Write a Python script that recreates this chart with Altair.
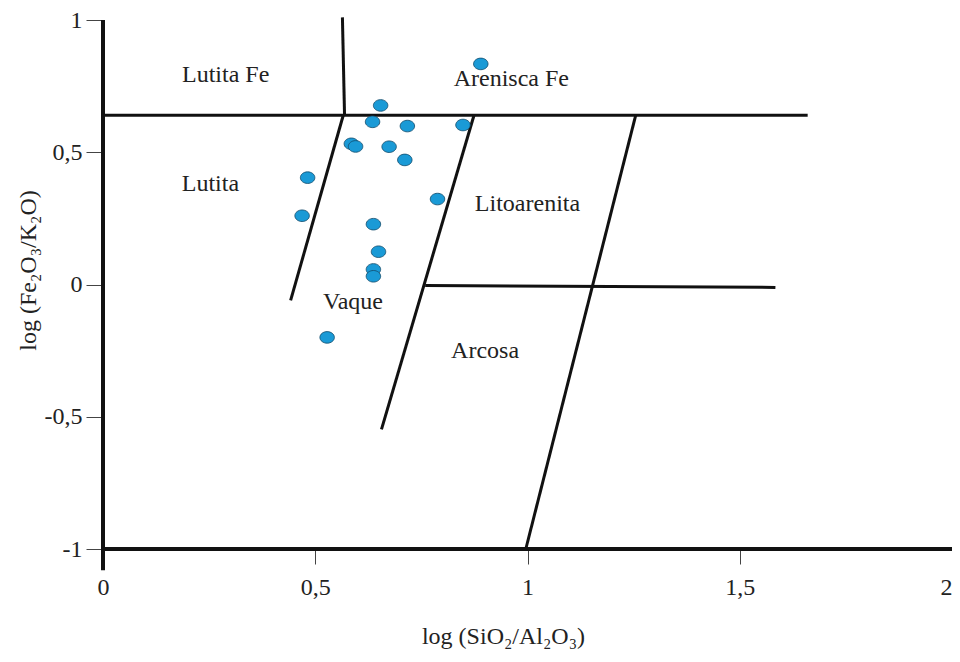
import altair as alt
import pandas as pd

# Sample points: log(SiO2/Al2O3), log(Fe2O3/K2O)
sample_x = [0.890, 0.654, 0.635, 0.717, 0.848, 0.585, 0.595, 0.674, 0.711,
            0.482, 0.788, 0.469, 0.637, 0.649, 0.637, 0.637, 0.528]
sample_y = [0.834, 0.677, 0.615, 0.599, 0.603, 0.532, 0.522, 0.521, 0.471,
            0.404, 0.323, 0.260, 0.228, 0.124, 0.057, 0.031, -0.200]

# Classification boundary segments (Herron 1988)
seg_x1 = [0.564, 0.000, 0.566, 0.874, 0.759, 1.255]
seg_y1 = [1.010, 0.640, 0.640, 0.640, -0.004, 0.640]
seg_x2 = [0.569, 1.660, 0.442, 0.656, 1.584, 0.996]
seg_y2 = [0.640, 0.640, -0.060, -0.548, -0.011, -1.000]

# Frame lines (axes)
frame_x1 = [0.0, 0.0]
frame_y1 = [-1.08, -1.0]
frame_x2 = [0.0, 2.0]
frame_y2 = [1.0, -1.0]

# Field labels
field_names = ["Lutita Fe", "Arenisca Fe", "Lutita", "Litoarenita", "Vaque", "Arcosa"]
field_x = [0.289, 0.962, 0.253, 1.000, 0.589, 0.900]
field_y = [0.793, 0.778, 0.379, 0.303, -0.066, -0.250]

x_ticks = [0, 0.5, 1, 1.5, 2]
y_ticks = [-1, -0.5, 0, 0.5, 1]

FONT = "Liberation Serif"
FS = 24

pts = pd.DataFrame({"x": sample_x, "y": sample_y})
segs = pd.DataFrame({"x": seg_x1, "y": seg_y1, "x2": seg_x2, "y2": seg_y2})
frame = pd.DataFrame({"x": frame_x1, "y": frame_y1, "x2": frame_x2, "y2": frame_y2})
labels = pd.DataFrame({"name": field_names, "x": field_x, "y": field_y})

xscale = alt.Scale(domain=[0, 2], nice=False, zero=False)
yscale = alt.Scale(domain=[-1, 1], nice=False, zero=False)

label_expr = "replace(toString(datum.value), '.', ',')"

xaxis = alt.Axis(
    title="log (SiO₂/Al₂O₃)", values=x_ticks, labelExpr=label_expr,
    domain=False, grid=False, ticks=True, tickSize=15, tickWidth=1, tickColor="#444",
    labelFont=FONT, labelFontSize=FS, labelColor="#222", labelPadding=11,
    labelFlush=False, labelOverlap=False,
    labelAlign=alt.condition("datum.value == 2", alt.value("right"), alt.value("center")),
    titleFont=FONT, titleFontSize=FS, titleFontWeight="normal", titleColor="#222",
    titleX=400, titleY=87, titleBaseline="middle", titleAlign="center",
)
yaxis = alt.Axis(
    title="log (Fe₂O₃/K₂O)", values=y_ticks, labelExpr=label_expr,
    domain=False, grid=False, ticks=True, tickSize=17, tickWidth=1, tickColor="#444",
    labelFont=FONT, labelFontSize=FS, labelColor="#222", labelPadding=4,
    labelFlush=False, labelOverlap=False,
    titleFont=FONT, titleFontSize=FS, titleFontWeight="normal", titleColor="#222",
    titleX=-75, titleY=250, titleAngle=270, titleBaseline="middle", titleAlign="center",
)

base_axes = alt.Chart(pts).mark_point(opacity=0).encode(
    x=alt.X("x:Q", scale=xscale, axis=xaxis),
    y=alt.Y("y:Q", scale=yscale, axis=yaxis),
)

frame_layer = alt.Chart(frame).mark_rule(color="#111", strokeWidth=4).encode(
    x=alt.X("x:Q", scale=xscale), y=alt.Y("y:Q", scale=yscale),
    x2="x2:Q", y2="y2:Q",
)

seg_layer = alt.Chart(segs).mark_rule(color="#111", strokeWidth=3).encode(
    x=alt.X("x:Q", scale=xscale), y=alt.Y("y:Q", scale=yscale),
    x2="x2:Q", y2="y2:Q",
)

ellipse = "M -1 0 A 1 0.8 0 1 0 1 0 A 1 0.8 0 1 0 -1 0 Z"
pt_layer = alt.Chart(pts).mark_point(
    shape=ellipse, filled=True, fill="#1A9AD6", stroke="#124a6a", strokeWidth=0.8,
    size=210, opacity=1,
).encode(
    x=alt.X("x:Q", scale=xscale), y=alt.Y("y:Q", scale=yscale),
)

text_layer = alt.Chart(labels).mark_text(
    font=FONT, fontSize=FS, color="#222", align="center", baseline="middle",
).encode(
    x=alt.X("x:Q", scale=xscale), y=alt.Y("y:Q", scale=yscale), text="name:N",
)

chart = alt.layer(base_axes, frame_layer, seg_layer, pt_layer, text_layer).properties(
    width=849, height=529,
    autosize=alt.AutoSizeParams(type="none"),
    padding={"left": 95, "top": 12, "right": 0, "bottom": 104},
    background="white",
).configure_view(stroke=None)

chart.save("out.html", embed_options={"renderer": "svg", "actions": False})
